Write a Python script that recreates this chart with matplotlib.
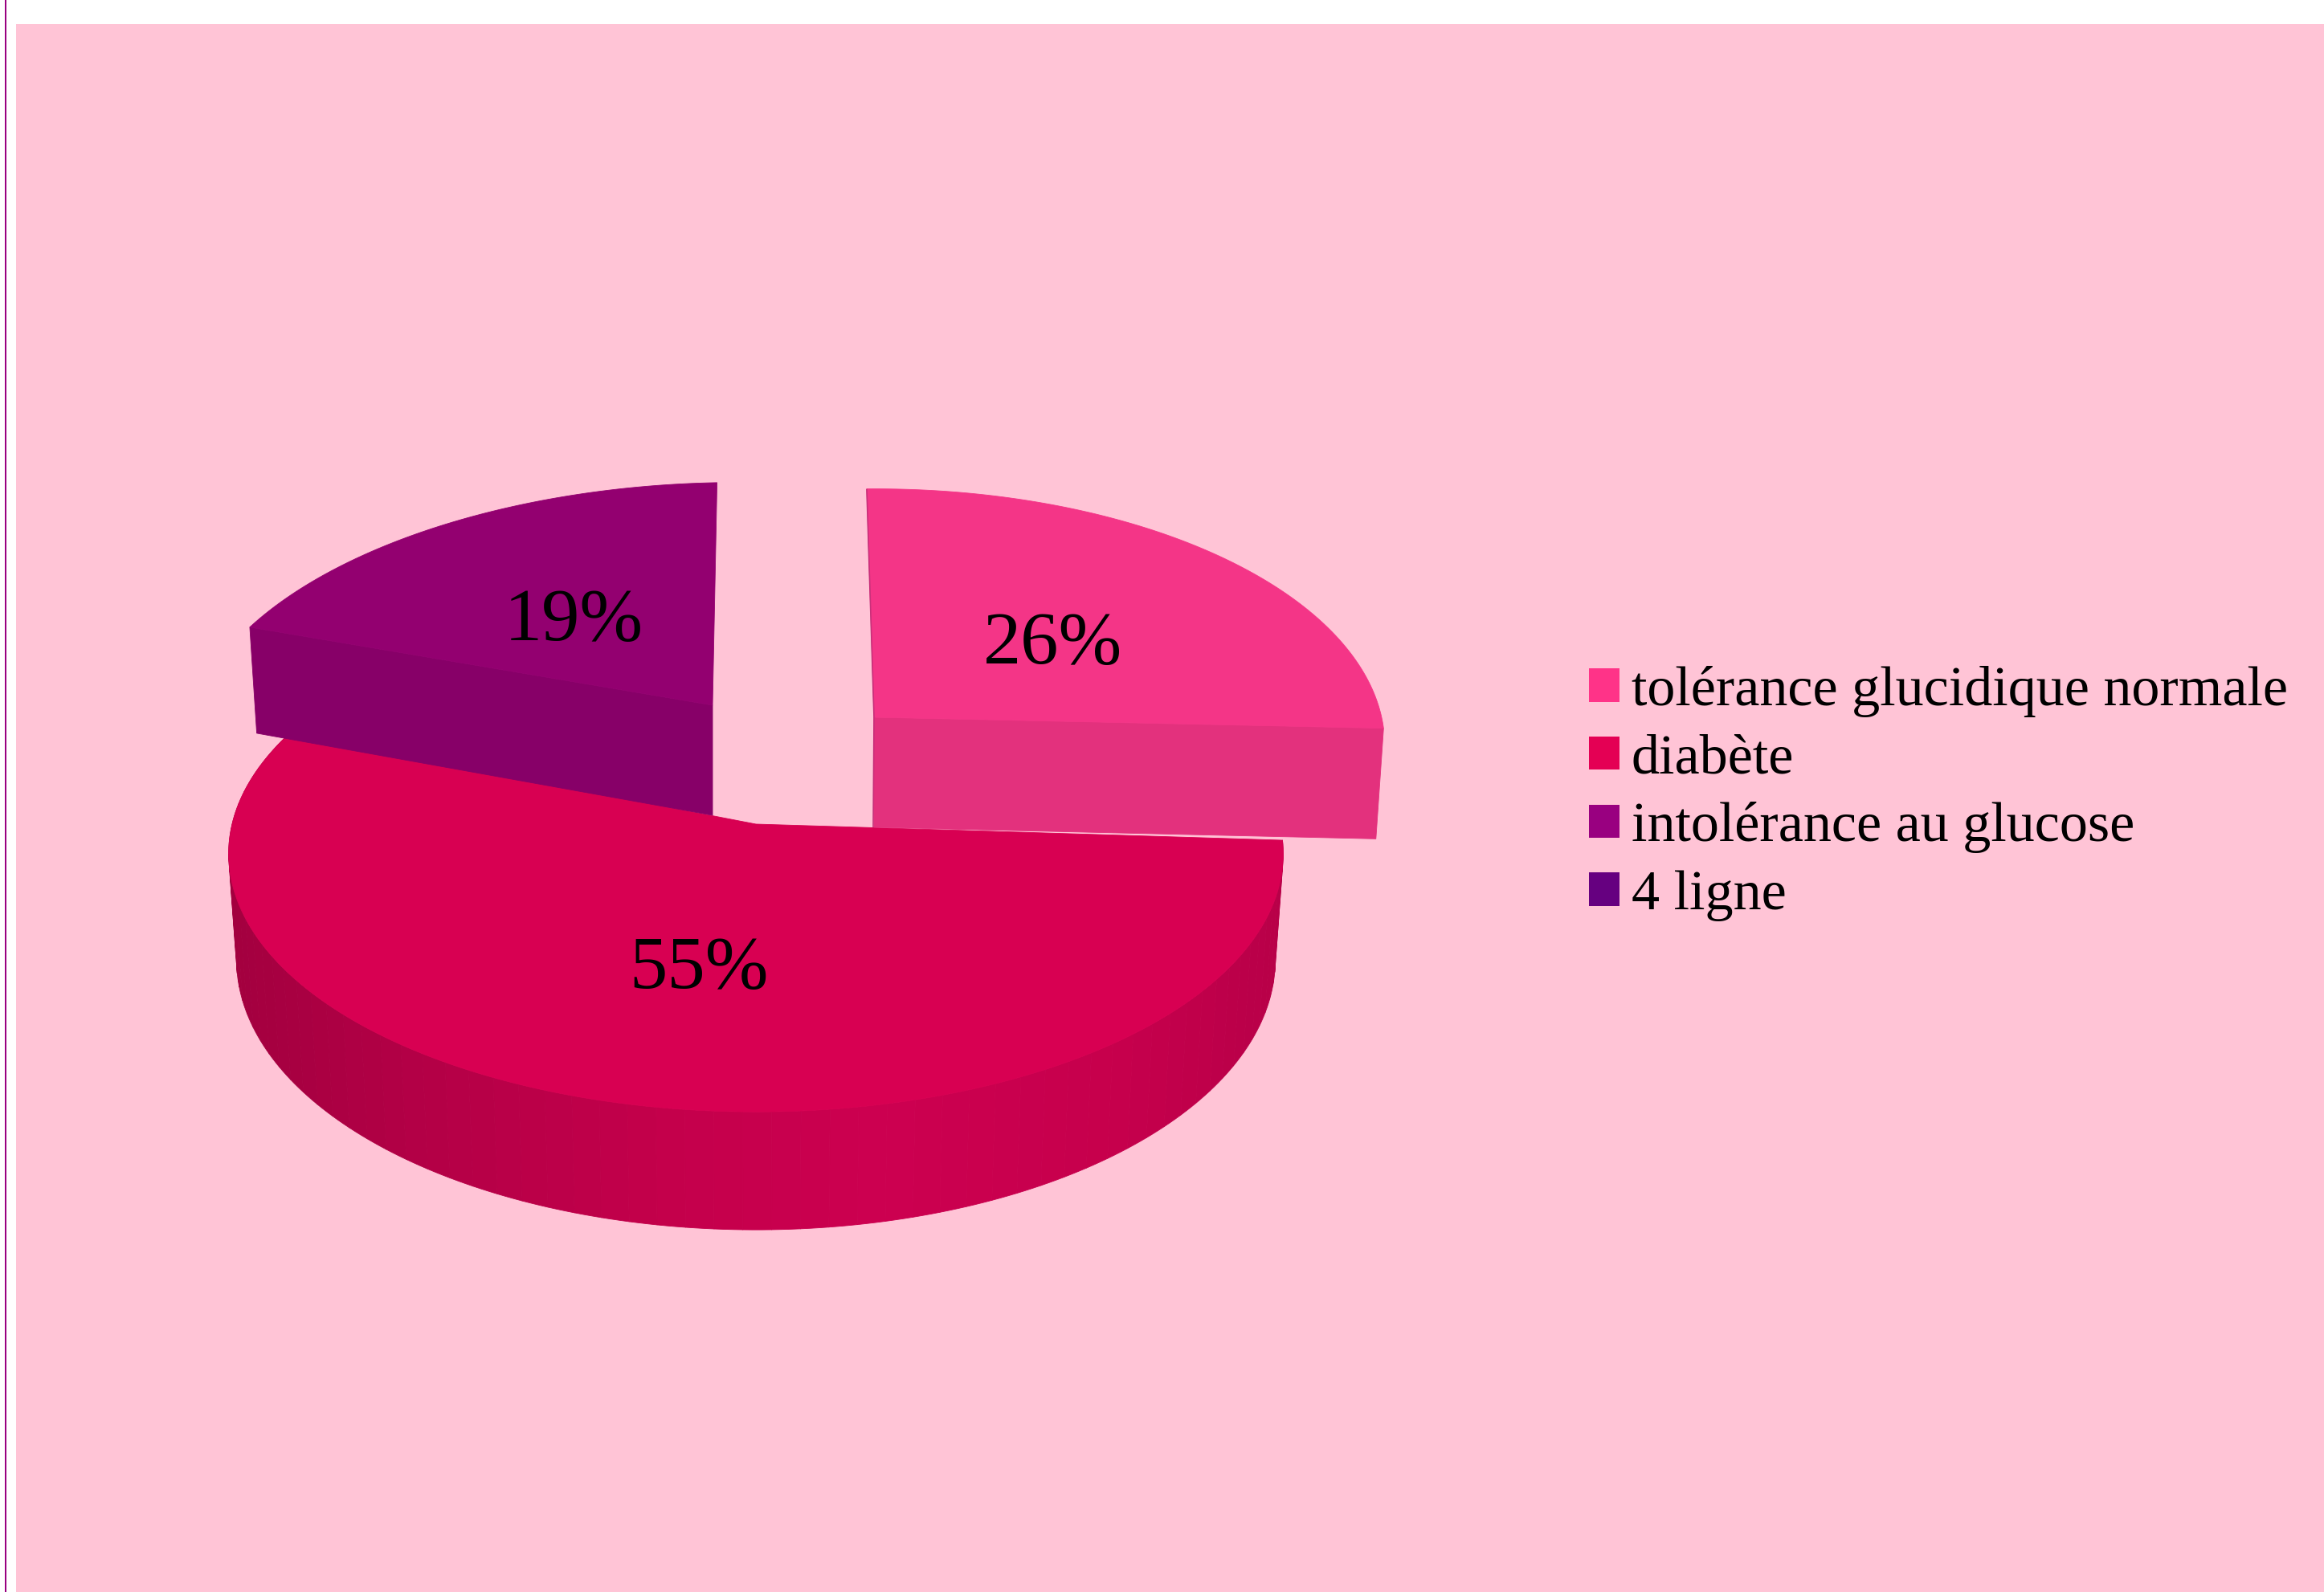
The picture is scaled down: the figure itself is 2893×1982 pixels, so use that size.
#!/usr/bin/env python3
"""Pseudo-3D exploded pie of glucose tolerance results, drawn with polygons."""

import numpy as np
import matplotlib
matplotlib.use("Agg")
import matplotlib.pyplot as plt
from matplotlib.collections import PolyCollection
from matplotlib.colors import to_rgb
from matplotlib.patches import Patch, Polygon, Rectangle

# ── Data ──────────────────────────────────────────────────────────────────────
CATEGORIES = ["tolérance glucidique normale", "diabète",
              "intolérance au glucose", "4 ligne"]
VALUES = [26, 55, 19, 0]

# ── Colours ───────────────────────────────────────────────────────────────────
C_PAGE = "#FFFFFF"
C_BG = "#FFC4D6"
C_RULE = "#990080"
C_LEGEND = ["#FF3388", "#E40054", "#990080", "#660080"]
C_TOP = ["#F43587", "#D80052", "#930070"]
C_CUT = ["#E3317D", None, "#870068"]

# main slice outer wall, left to right
WALL_STOPS = [0.0, 0.18, 0.42, 0.62, 0.85, 1.0]
WALL_COLOURS = ["#A3003F", "#B30046", "#C4004B", "#CC0050", "#C6004C", "#B80048"]

# ── Projection of each slice: apex, radii, height ─────────────────────────────
W, H = 2893, 1982
VANISH_X = [1000, 941, 941]
PERSP = 0.115
APEX = [(1088, 893), (941, 1026), (887, 878)]
RX = [632, 652, 645]
RY = [317, 317, 309]
TILT = [-0.02, 0.0, -0.045]
DEPTH = [137, 130, 137]
BOTTOM_SHRINK = 0.985


def project(i, theta, lower=False):
    """Map clockwise-from-top angles of slice i to page coordinates."""
    ax0, ay0 = APEX[i]
    xs = np.sin(theta)
    ys = -np.cos(theta) + TILT[i] * xs
    s = 1.0 / (1.0 - PERSP * ys)
    rx = RX[i] * (BOTTOM_SHRINK if lower else 1.0)
    x = VANISH_X[i] + (ax0 - VANISH_X[i] + rx * xs) * s
    y = ay0 + RY[i] * ys * s
    if lower:
        y = y + DEPTH[i] * s
    return x, y


def apex_point(i, lower=False):
    ax0, ay0 = APEX[i]
    return ax0, ay0 + (DEPTH[i] if lower else 0)


def top_face(i, t0, t1):
    th = np.linspace(t0, t1, 200)
    x, y = project(i, th)
    return np.vstack([[apex_point(i)], np.column_stack([x, y])])


def wall_colour(frac):
    rgb = np.array([to_rgb(c) for c in WALL_COLOURS])
    return [np.interp(frac, WALL_STOPS, rgb[:, k]) for k in range(3)]


def draw_main_wall(ax, i, t0, t1, n=70):
    edges = np.linspace(t0, t1, n + 1)
    polys, cols = [], []
    for a, b in zip(edges[:-1], edges[1:]):
        th = np.linspace(a, b, 4)
        xt, yt = project(i, th)
        xb, yb = project(i, th, lower=True)
        polys.append(np.column_stack([np.r_[xt, xb[::-1]], np.r_[yt, yb[::-1]]]))
        xmid = project(i, 0.5 * (a + b))[0]
        cols.append(wall_colour((xmid - 282) / (1598 - 282)))
    ax.add_collection(PolyCollection(polys, facecolors=cols, edgecolors=cols,
                                     linewidths=0.6, zorder=2))


def draw_lifted_slice(ax, i, t0, t1, cut_angle, zorder):
    # flat cut face under the top surface
    xc, yc = project(i, cut_angle)
    xd, yd = project(i, cut_angle, lower=True)
    cut = [apex_point(i), (xc, yc), (xd, yd), apex_point(i, lower=True)]
    ax.add_patch(Polygon(cut, closed=True, fc=C_CUT[i], ec=C_CUT[i], lw=0.6,
                         zorder=zorder))
    ax.add_patch(Polygon(top_face(i, t0, t1), closed=True, fc=C_TOP[i],
                         ec=C_TOP[i], lw=0.6, zorder=zorder + 0.1))


def main():
    fig = plt.figure(figsize=(W / 100, H / 100), dpi=100, facecolor=C_PAGE)
    ax = fig.add_axes([0, 0, 1, 1])
    ax.set_xlim(0, W)
    ax.set_ylim(H, 0)
    ax.axis("off")

    # ── Page background and left rule ─────────────────────────────────────
    ax.add_patch(Rectangle((20, 30), W - 20, H - 30, fc=C_BG, ec="none", zorder=0))
    ax.add_patch(Rectangle((6, 0), 2, H, fc=C_RULE, ec="none", zorder=1))

    # ── Slice angles from the values ──────────────────────────────────────
    shown = VALUES[:3]
    ang = np.radians(np.cumsum([0] + shown) * 360.0 / sum(shown))

    # main slice (diabète)
    draw_main_wall(ax, 1, ang[1], ang[2])
    ax.add_patch(Polygon(top_face(1, ang[1], ang[2]), closed=True, fc=C_TOP[1],
                         ec=C_TOP[1], lw=0.6, zorder=3))

    # lifted slices
    draw_lifted_slice(ax, 2, ang[2], ang[3], ang[2], 4)
    draw_lifted_slice(ax, 0, ang[0], ang[1], ang[1], 5)

    # thin visible back edge on the right-hand slice
    xb, yb = project(0, 0.0)
    ax0, ay0 = apex_point(0)
    ax.plot([xb, ax0, ax0 - 1], [yb, ay0, ay0 + DEPTH[0]], color="#C8307A",
            lw=1.2, zorder=5.2, solid_capstyle="butt")

    # ── Percentage labels ─────────────────────────────────────────────────
    pct_font = dict(family="Liberation Serif", fontsize=68, color="black",
                    ha="center", va="baseline", zorder=8)
    ax.text(1310, 826, f"{VALUES[0]}%", **pct_font)
    ax.text(870, 1230, f"{VALUES[1]}%", **pct_font)
    ax.text(714, 797, f"{VALUES[2]}%", **pct_font)

    # ── Legend ────────────────────────────────────────────────────────────
    handles = [Patch(fc=c, ec="none") for c in C_LEGEND]
    leg = ax.legend(handles, CATEGORIES, loc="upper left",
                    bbox_to_anchor=(1978 / W, 1 - 829 / H),
                    bbox_transform=ax.transAxes,
                    prop={"family": "Liberation Serif", "size": 50.5},
                    frameon=False, borderpad=0, borderaxespad=0,
                    handlelength=0.54, handleheight=0.54, handletextpad=0.21,
                    labelspacing=0.298, labelcolor="black")
    leg.set_zorder(8)

    fig.savefig("out.png", dpi=100, facecolor=C_PAGE)
    plt.close(fig)


if __name__ == "__main__":
    main()
